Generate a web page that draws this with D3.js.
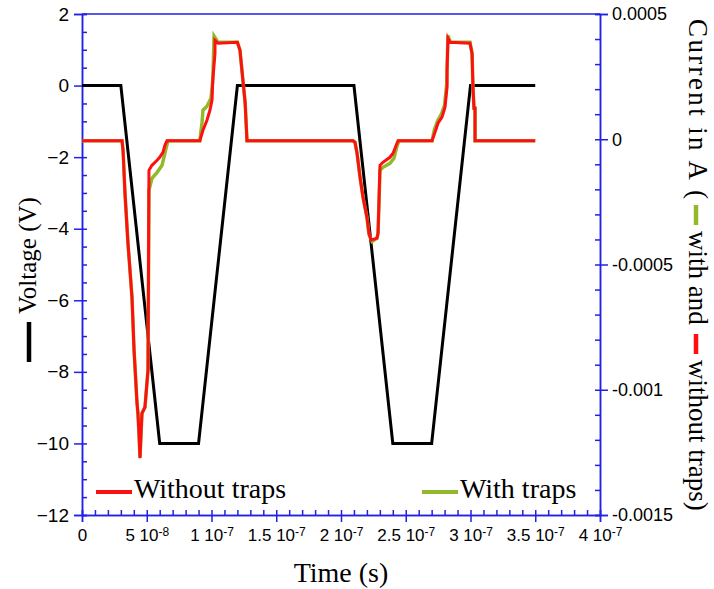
<!DOCTYPE html>
<html>
<head>
<meta charset="utf-8">
<script src="https://cdn.jsdelivr.net/npm/d3@7"></script>
<style>
  body { margin: 0; background: #fff; }
  svg { display: block; }
</style>
</head>
<body>
<div id="chart"></div>
<script>
// voltage (left axis), black
const timeV = [0, 3e-8, 6e-8, 9e-8, 1.2e-7, 2.1e-7, 2.4e-7, 2.7e-7, 3.0e-7, 3.5e-7];
const voltage = [0, 0, -10, -10, 0, 0, -10, -10, 0, 0];

// current without traps (right axis), red
const timeRed = [0, 3.09e-8, 3.17e-8, 3.32e-8, 3.55e-8, 3.86e-8, 4.02e-8, 4.25e-8, 4.32e-8, 4.40e-8, 4.48e-8,
  4.56e-8, 4.63e-8, 4.86e-8, 5.1e-8, 5.17e-8, 5.4e-8, 5.8e-8, 6.0e-8, 6.25e-8, 6.4e-8, 6.56e-8,
  9.1e-8, 9.34e-8, 9.65e-8, 9.88e-8, 1.004e-7, 1.01e-7, 1.027e-7, 1.027e-7, 1.05e-7, 1.2e-7, 1.22e-7,
  1.235e-7, 1.26e-7, 1.274e-7,
  2.093e-7, 2.108e-7, 2.124e-7, 2.147e-7, 2.17e-7, 2.2e-7, 2.216e-7, 2.232e-7, 2.278e-7, 2.286e-7,
  2.293e-7, 2.301e-7, 2.324e-7, 2.378e-7, 2.402e-7, 2.432e-7, 2.44e-7,
  2.703e-7, 2.726e-7, 2.749e-7, 2.78e-7, 2.803e-7, 2.819e-7, 2.819e-7, 2.826e-7, 2.842e-7, 2.996e-7,
  3.012e-7, 3.019e-7, 3.027e-7, 3.035e-7, 3.035e-7, 3.5e-7];
const currentRed = [-6e-6, -6e-6, -4.4e-5, -2.16e-4, -4.15e-4, -6.31e-4, -8.42e-4, -1.054e-3, -1.094e-3, -1.174e-3, -1.273e-3,
  -1.174e-3, -1.094e-3, -1.07e-3, -9.2e-4, -1.24e-4, -1.04e-4, -8.4e-5, -7.2e-5, -5.2e-5, -2.4e-5, -6e-6,
  -6e-6, 3.6e-5, 7.6e-5, 1.16e-4, 1.56e-4, 2.36e-4, 3.43e-4, 3.95e-4, 3.83e-4, 3.87e-4, 3.55e-4,
  2.75e-4, 1.44e-4, -6e-6,
  -6e-6, -1.2e-5, -5.6e-5, -1.52e-4, -2.32e-4, -3.11e-4, -3.75e-4, -4.03e-4, -3.95e-4, -3.75e-4,
  -2.55e-4, -1.04e-4, -9.2e-5, -7.2e-5, -5.6e-5, -1.6e-5, -6e-6,
  -6e-6, 2.8e-5, 6.4e-5, 8.8e-5, 1.28e-4, 2.08e-4, 2.75e-4, 4.03e-4, 3.87e-4, 3.83e-4,
  3.43e-4, 2.08e-4, 1.24e-4, 1.24e-4, -6e-6, -6e-6];

// current with traps (right axis), green
const timeGreen = [0, 3.09e-8, 3.17e-8, 3.32e-8, 3.55e-8, 3.86e-8, 4.02e-8, 4.25e-8, 4.32e-8, 4.40e-8, 4.48e-8,
  4.56e-8, 4.63e-8, 4.86e-8, 5.1e-8, 5.17e-8, 5.4e-8, 5.8e-8, 6.18e-8, 6.49e-8, 6.64e-8,
  9.1e-8, 9.27e-8, 9.34e-8, 9.65e-8, 9.96e-8, 1.01e-7, 1.02e-7, 1.05e-7, 1.2e-7, 1.22e-7,
  1.235e-7, 1.26e-7, 1.274e-7,
  2.093e-7, 2.108e-7, 2.124e-7, 2.147e-7, 2.17e-7, 2.2e-7, 2.216e-7, 2.24e-7, 2.278e-7, 2.286e-7,
  2.293e-7, 2.301e-7, 2.324e-7, 2.378e-7, 2.409e-7, 2.432e-7, 2.448e-7,
  2.703e-7, 2.72e-7, 2.745e-7, 2.775e-7, 2.8e-7, 2.816e-7, 2.82e-7, 2.826e-7, 2.845e-7, 2.996e-7,
  3.012e-7, 3.019e-7, 3.027e-7, 3.035e-7, 3.035e-7, 3.5e-7];
const currentGreen = [-6e-6, -6e-6, -4.4e-5, -2.16e-4, -4.15e-4, -6.31e-4, -8.42e-4, -1.054e-3, -1.094e-3, -1.174e-3, -1.27e-3,
  -1.174e-3, -1.094e-3, -1.07e-3, -9.2e-4, -2.04e-4, -1.56e-4, -1.32e-4, -1.04e-4, -3.6e-5, -6e-6,
  -6e-6, 6.8e-5, 1.16e-4, 1.32e-4, 1.64e-4, 2.36e-4, 4.11e-4, 3.87e-4, 3.87e-4, 3.55e-4,
  2.75e-4, 1.44e-4, -6e-6,
  -6e-6, -1.2e-5, -5.6e-5, -1.52e-4, -2.32e-4, -3.11e-4, -3.8e-4, -4.08e-4, -3.95e-4, -3.75e-4,
  -2.6e-4, -1.24e-4, -1.12e-4, -9.6e-5, -7.6e-5, -2.8e-5, -6e-6,
  -6e-6, 3.6e-5, 7.2e-5, 1.0e-4, 1.36e-4, 2.2e-4, 3.0e-4, 4.15e-4, 3.87e-4, 3.87e-4,
  3.43e-4, 2.08e-4, 1.24e-4, 1.24e-4, -6e-6, -6e-6];

// tick labels
const xTicks = [0, 5e-8, 1e-7, 1.5e-7, 2e-7, 2.5e-7, 3e-7, 3.5e-7, 4e-7];
const xTickMantissa = ["0", "5", "1", "1.5", "2", "2.5", "3", "3.5", "4"];
const xTickExponent = ["", "-8", "-7", "-7", "-7", "-7", "-7", "-7", "-7"];
const vTicks = [2, 0, -2, -4, -6, -8, -10, -12];
const iTicks = [0.0005, 0, -0.0005, -0.001, -0.0015];
const iTickLabels = ["0.0005", "0", "-0.0005", "-0.001", "-0.0015"];

const W = 714, H = 589;
const margin = { top: 14, right: 114, bottom: 74, left: 82 };
const width = W - margin.left - margin.right;
const height = H - margin.top - margin.bottom;
const axisColor = "#2121e6";
const red = "#ff1010", green = "#93b82c";

const svg = d3.select("#chart").append("svg")
  .attr("width", W)
  .attr("height", H);

const g = svg.append("g")
  .attr("transform", "translate(" + margin.left + "," + margin.top + ")");

// SCALES
const x = d3.scaleLinear().domain([0, 4e-7]).range([0, width]);
const yV = d3.scaleLinear().domain([-12, 2]).range([height, 0]);
const yI = d3.scaleLinear().domain([-0.0015, 0.0005]).range([height, 0]);

// AXES
function styleAxis(sel, size) {
  sel.select(".domain").attr("stroke", axisColor).attr("stroke-width", 1.5);
  sel.selectAll(".tick line").attr("stroke", axisColor).attr("stroke-width", 1.5);
  sel.selectAll(".tick text").attr("fill", "#000")
    .style("font-family", "'Liberation Sans', Arial, sans-serif")
    .style("font-size", (size || 18) + "px");
}

// minor ticks (inside)
g.append("g").attr("transform", "translate(0," + height + ")")
  .call(d3.axisBottom(x).tickValues(d3.range(0, 4.001e-7, 1e-8)).tickSize(-5).tickFormat(""))
  .call(styleAxis);
g.append("g")
  .call(d3.axisLeft(yV).tickValues(d3.range(-12, 2.01, 0.5)).tickSize(-5).tickFormat(""))
  .call(styleAxis);
g.append("g").attr("transform", "translate(" + width + ",0)")
  .call(d3.axisRight(yI).tickValues(d3.range(-0.0015, 0.00051, 0.0001)).tickSize(-5).tickFormat(""))
  .call(styleAxis);

// major ticks (outside)
const xAxis = g.append("g").attr("transform", "translate(0," + height + ")")
  .call(d3.axisBottom(x).tickValues(xTicks).tickSize(7).tickPadding(7).tickFormat(""))
  .call(styleAxis, 17);
xAxis.selectAll(".tick text").each(function (d, i) {
  const t = d3.select(this);
  t.append("tspan").text(xTickMantissa[i] + (xTickExponent[i] ? " 10" : ""));
  if (xTickExponent[i]) {
    t.append("tspan").attr("dy", "-0.45em").style("font-size", "12px").text(xTickExponent[i]);
  }
});

g.append("g")
  .call(d3.axisLeft(yV).tickValues(vTicks).tickSize(8).tickPadding(5).tickFormat(d3.format("d")))
  .call(styleAxis, 19);
g.append("g").attr("transform", "translate(" + width + ",0)")
  .call(d3.axisRight(yI).tickValues(iTicks).tickSize(8).tickPadding(4)
    .tickFormat((d, i) => iTickLabels[i]))
  .call(styleAxis, 18);

// top border
g.append("line")
  .attr("x1", 0).attr("x2", width).attr("y1", 0).attr("y2", 0)
  .attr("stroke", axisColor).attr("stroke-width", 1.5);

// LINES
const lineV = d3.line().x((d, i) => x(timeV[i])).y(d => yV(d));
const lineI = (times) => d3.line().x((d, i) => x(times[i])).y(d => yI(d));

g.append("path").datum(voltage)
  .attr("fill", "none").attr("stroke", "#000").attr("stroke-width", 3)
  .attr("d", lineV);
g.append("path").datum(currentGreen)
  .attr("fill", "none").attr("stroke", green).attr("stroke-width", 3.5)
  .attr("d", lineI(timeGreen));
g.append("path").datum(currentRed)
  .attr("fill", "none").attr("stroke", red).attr("stroke-width", 3)
  .attr("d", lineI(timeRed));

// LEGEND
const serif = "'Liberation Serif', 'Times New Roman', serif";
const legend = [
  { label: "Without traps", color: red, x: 14 },
  { label: "With traps", color: green, x: 340 }
];
legend.forEach(l => {
  g.append("line")
    .attr("x1", l.x).attr("x2", l.x + 36)
    .attr("y1", 478).attr("y2", 478)
    .attr("stroke", l.color).attr("stroke-width", 4);
  g.append("text")
    .attr("x", l.x + 38).attr("y", 484)
    .style("font-family", serif).style("font-size", "28px")
    .text(l.label);
});

// AXIS TITLES
svg.append("text")
  .attr("x", margin.left + width / 2).attr("y", 582)
  .attr("text-anchor", "middle")
  .style("font-family", serif).style("font-size", "28px")
  .text("Time (s)");

// rotated titles: pieces placed along the reading direction
function rotatedTitle(tx, ty, angle, size, parts) {
  const tg = svg.append("g").attr("transform", "translate(" + tx + "," + ty + ") rotate(" + angle + ")");
  parts.forEach(p => {
    if (p.dash) {
      tg.append("line")
        .attr("x1", p.at).attr("x2", p.at + p.len)
        .attr("y1", -7).attr("y2", -7)
        .attr("stroke", p.dash).attr("stroke-width", 4.5);
    } else {
      const t = tg.append("text")
        .attr("x", p.at).attr("y", 0)
        .style("font-family", serif).style("font-size", size + "px")
        .text(p.text);
      if (p.len) t.attr("textLength", p.len).attr("lengthAdjust", "spacing");
    }
  });
}

// left: reading bottom to top, origin at y = 362
rotatedTitle(36, 362, -90, 25, [
  { dash: "#000", at: 0, len: 40 },
  { text: "Voltage (V)", at: 48 }
]);

// right: reading top to bottom, origin at y = 19
rotatedTitle(689, 19, 90, 27, [
  { text: "Current in A (", at: 0, len: 180 },
  { dash: green, at: 186, len: 20 },
  { text: "with and", at: 212 },
  { dash: red, at: 315, len: 20 },
  { text: "without traps)", at: 341 }
]);
</script>
</body>
</html>
